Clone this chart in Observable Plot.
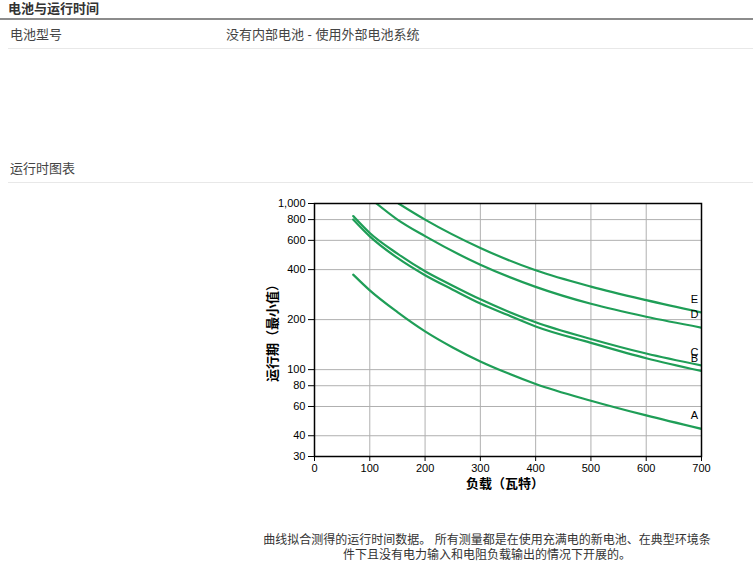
<!DOCTYPE html>
<html>
<head>
<meta charset="utf-8">
<script src="https://cdn.jsdelivr.net/npm/d3@7"></script>
<script src="https://cdn.jsdelivr.net/npm/@observablehq/plot@0.6"></script>
<style>
  html, body { margin: 0; padding: 0; background: #fff; }
  body { width: 753px; height: 587px; position: relative; overflow: hidden;
         font-family: "Liberation Sans", "Noto Sans CJK SC", sans-serif; }
  .abs { position: absolute; white-space: nowrap; }
  #title { left: 8px; top: 0px; font-size: 13px; line-height: 17px; font-weight: bold; color: #333; }
  #rule1 { left: 0; top: 18px; width: 753px; height: 2px; background: #8c8c8c; }
  #rowLabel { left: 10px; top: 26px; font-size: 13px; line-height: 17px; color: #444; }
  #rowValue { left: 226px; top: 26px; font-size: 13px; line-height: 17px; color: #444; }
  #rule2 { left: 8px; top: 48px; width: 745px; height: 1px; background: #e8e8e8; }
  #section { left: 10px; top: 160px; font-size: 13px; line-height: 17px; color: #444; }
  #rule3 { left: 8px; top: 182px; width: 745px; height: 1px; background: #e8e8e8; }
  #chart { left: 250px; top: 190px; }
  #caption { left: 262px; top: 533px; width: 450px; text-align: center; font-size: 12px;
             line-height: 15px; color: #333; white-space: normal; }
</style>
</head>
<body>
<div id="title" class="abs">电池与运行时间</div>
<div id="rule1" class="abs"></div>
<div id="rowLabel" class="abs">电池型号</div>
<div id="rowValue" class="abs">没有内部电池 - 使用外部电池系统</div>
<div id="rule2" class="abs"></div>
<div id="section" class="abs">运行时图表</div>
<div id="rule3" class="abs"></div>
<div id="chart" class="abs"></div>
<div id="caption" class="abs">曲线拟合测得的运行时间数据。 所有测量都是在使用充满电的新电池、在典型环境条<br>件下且没有电力输入和电阻负载输出的情况下开展的。</div>
<script>
// ---- data ----
const seriesNames = ["A", "B", "C", "D", "E"];

const loadsABC = [70, 100, 150, 200, 250, 300, 350, 400, 500, 600, 700];
const runtimeA = [373, 300, 222, 170, 136, 112, 95, 82, 65, 53, 44];
const runtimeB = [801, 634, 470, 370, 303, 250, 213, 182, 145, 117, 98];
const runtimeC = [840, 664, 499, 391, 320, 265, 224, 193, 153, 125, 106];

const loadsD = [112, 150, 200, 300, 400, 500, 600, 700];
const runtimeD = [1000, 800, 636, 428, 315, 249, 208, 179];

const loadsE = [152, 200, 300, 400, 500, 600, 700];
const runtimeE = [1000, 800, 540, 396, 316, 262, 221];

const xTicks = [0, 100, 200, 300, 400, 500, 600, 700];
const yTicks = [30, 40, 60, 80, 100, 200, 400, 600, 800, 1000];

const xTitle = "负载（瓦特）";
const yTitle = "运行期（最小值）";

// ---- build long table ----
const seriesLoads = [loadsABC, loadsABC, loadsABC, loadsD, loadsE];
const seriesRuntimes = [runtimeA, runtimeB, runtimeC, runtimeD, runtimeE];
const rows = [];
seriesNames.forEach((s, i) => {
  seriesLoads[i].forEach((l, j) => rows.push({series: s, load: l, runtime: seriesRuntimes[i][j]}));
});
const lastPoints = seriesNames.map((s, i) => {
  const L = seriesLoads[i], R = seriesRuntimes[i];
  return {series: s, load: L[L.length - 1], runtime: R[R.length - 1]};
});

const green = "#1f9e57";
const fmt = d3.format(",");

const chart = Plot.plot({
  width: 470,
  height: 310,
  marginLeft: 64,
  marginRight: 19,
  marginTop: 13,
  marginBottom: 44,
  style: {fontFamily: "Liberation Sans, Noto Sans CJK SC, sans-serif", fontSize: "11px", color: "#000", background: "#fff"},
  x: {domain: [0, 700]},
  y: {type: "log", domain: [30, 1000]},
  marks: [
    Plot.gridX(xTicks, {stroke: "#b0b0b0", strokeOpacity: 1, strokeWidth: 1}),
    Plot.gridY(yTicks, {stroke: "#b0b0b0", strokeOpacity: 1, strokeWidth: 1}),
    Plot.line(rows, {x: "load", y: "runtime", z: "series", stroke: green, strokeWidth: 2.2, curve: "monotone-x", clip: true}),
    Plot.frame({stroke: "#000", strokeWidth: 1.5}),
    Plot.axisX({ticks: xTicks, tickSize: 5, tickPadding: 3, label: null, tickFormat: d3.format("d"), fontSize: 11}),
    Plot.axisY({ticks: yTicks, tickSize: 6, tickPadding: 3, label: null, tickFormat: () => ""}),
    Plot.text(yTicks, {y: d => d, text: d => fmt(d), frameAnchor: "left", dx: -9, textAnchor: "end", fill: "#000", fontSize: 11}),
    Plot.text(lastPoints, {x: "load", y: "runtime", text: "series", dx: -7, dy: -13, fill: "#000", fontSize: 11}),
    Plot.text([xTitle], {frameAnchor: "bottom", dy: 31, dx: -3, textAnchor: "middle", fontWeight: "bold", fontSize: 13, fill: "#000"}),
    Plot.text([yTitle], {frameAnchor: "left", rotate: -90, dx: -42, textAnchor: "middle", fontWeight: "bold", fontSize: 13, fill: "#000"})
  ]
});
document.getElementById("chart").appendChild(chart);
</script>
</body>
</html>
